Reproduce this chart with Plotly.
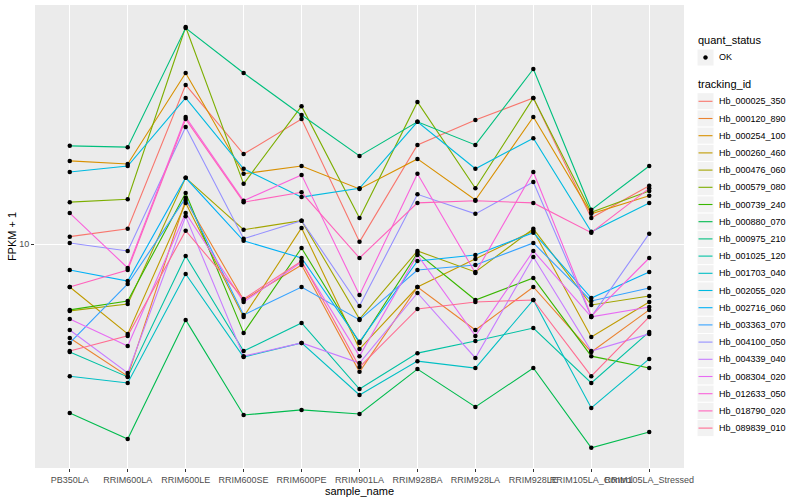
import plotly.graph_objects as go

# ---- categories ----
samples = ["PB350LA", "RRIM600LA", "RRIM600LE", "RRIM600SE", "RRIM600PE",
           "RRIM901LA", "RRIM928BA", "RRIM928LA", "RRIM928LE",
           "RRIM105LA_Control", "RRIM105LA_Stressed"]

tracking_ids = ["Hb_000025_350", "Hb_000120_890", "Hb_000254_100", "Hb_000260_460",
                "Hb_000476_060", "Hb_000579_080", "Hb_000739_240", "Hb_000880_070",
                "Hb_000975_210", "Hb_001025_120", "Hb_001703_040", "Hb_002055_020",
                "Hb_002716_060", "Hb_003363_070", "Hb_004100_050", "Hb_004339_040",
                "Hb_008304_020", "Hb_012633_050", "Hb_018790_020", "Hb_089839_010"]

colors = ["#F8766D", "#EA8331", "#D89000", "#C09B00", "#A3A500", "#7CAE00",
          "#39B600", "#00BB4E", "#00BF7D", "#00C1A3", "#00BFC4", "#00BAE0",
          "#00B0F6", "#35A2FF", "#9590FF", "#C77CFF", "#E76BF3", "#FA62DB",
          "#FF62BC", "#FF6C91"]

# ---- FPKM + 1 values (one list per tracking_id, in sample order) ----
hb_000025_350 = [10.7, 11.5, 43.3, 22.9, 31.6, 10.2, 24.9, 31.3, 38.4, 12.7, 17.1]
hb_000120_890 = [4.21, 2.96, 15.0, 5.97, 8.24, 3.08, 6.73, 4.53, 6.73, 3.70, 5.45]
hb_000254_100 = [21.5, 20.9, 48.3, 19.1, 20.5, 16.6, 21.9, 15.0, 32.2, 13.2, 15.6]
hb_000260_460 = [6.73, 4.37, 14.6, 5.11, 11.6, 3.80, 6.73, 8.71, 11.3, 4.25, 5.86]
hb_000476_060 = [5.40, 5.75, 18.4, 11.4, 12.4, 5.01, 9.38, 7.73, 11.5, 5.70, 6.19]
hb_000579_080 = [14.7, 15.1, 73.8, 17.4, 35.6, 12.7, 37.0, 16.7, 38.4, 13.4, 16.3]
hb_000739_240 = [5.45, 5.92, 16.0, 4.41, 9.64, 4.02, 9.20, 5.97, 7.31, 3.56, 3.19]
hb_000880_070 = [2.11, 1.66, 4.97, 2.07, 2.17, 2.09, 3.16, 2.23, 3.19, 1.53, 1.77]
hb_000975_210 = [24.7, 24.4, 73.1, 48.3, 32.8, 22.5, 30.8, 24.9, 50.1, 13.7, 20.5]
hb_001025_120 = [3.70, 2.94, 8.95, 3.73, 4.83, 2.63, 3.66, 4.09, 4.61, 2.78, 4.45]
hb_001703_040 = [2.96, 2.78, 7.59, 3.53, 4.02, 2.49, 3.40, 3.19, 5.97, 2.21, 3.47]
hb_002055_020 = [19.4, 20.5, 38.4, 20.0, 15.4, 16.7, 30.8, 20.0, 26.5, 11.2, 14.6]
hb_002716_060 = [7.87, 7.11, 18.4, 10.3, 8.79, 4.06, 8.55, 9.04, 11.1, 6.08, 7.73]
hb_003363_070 = [4.02, 6.92, 15.3, 5.20, 6.73, 4.97, 7.87, 8.24, 10.1, 5.92, 6.67]
hb_004100_050 = [10.1, 9.38, 29.4, 10.5, 12.4, 5.65, 15.8, 13.2, 17.7, 5.11, 11.0]
hb_004339_040 = [4.53, 3.05, 12.9, 3.56, 4.02, 3.34, 6.37, 3.50, 8.87, 3.73, 4.37]
hb_008304_020 = [5.01, 3.91, 13.3, 5.86, 8.47, 3.56, 9.04, 4.29, 9.38, 5.11, 5.60]
hb_012633_050 = [13.3, 8.02, 32.2, 14.9, 18.9, 6.25, 19.1, 7.66, 19.4, 5.15, 8.79]
hb_018790_020 = [6.73, 7.87, 31.6, 14.7, 16.1, 8.79, 14.6, 14.9, 14.6, 11.1, 16.7]
hb_089839_010 = [3.73, 4.29, 11.3, 6.03, 8.55, 3.22, 5.50, 5.86, 5.97, 2.96, 5.11]

series = [hb_000025_350, hb_000120_890, hb_000254_100, hb_000260_460, hb_000476_060,
          hb_000579_080, hb_000739_240, hb_000880_070, hb_000975_210, hb_001025_120,
          hb_001703_040, hb_002055_020, hb_002716_060, hb_003363_070, hb_004100_050,
          hb_004339_040, hb_008304_020, hb_012633_050, hb_018790_020, hb_089839_010]

quant_status = ["OK"]

FONT = "Liberation Sans, Arial, sans-serif"

# ---- page geometry (pixels) ----
W, H = 800, 500
ML, MR, MT, MB = 35, 116, 5, 32
PW, PH = W - ML - MR, H - MT - MB


def px(x):   # pixel column -> paper x
    return (x - ML) / PW


def py(y):   # pixel row -> paper y
    return (H - MB - y) / PH


fig = go.Figure()

for name, col, vals in zip(tracking_ids, colors, series):
    fig.add_trace(go.Scatter(
        x=samples, y=vals, mode="lines", name=name,
        line=dict(color=col, width=1.1),
        showlegend=False, hoverinfo="skip",
    ))

# points (quant_status = OK) on top of the lines
all_x = [s for vals in series for s in samples]
all_y = [v for vals in series for v in vals]
fig.add_trace(go.Scatter(
    x=all_x, y=all_y, mode="markers", name=quant_status[0],
    marker=dict(color="black", size=4.5, symbol="circle"),
    showlegend=False,
))

# ---- ggplot-style legend drawn with shapes + text ----
shapes = []
annotations = []
KX0, KX1 = 697, 714
TX = 717

annotations.append(dict(text="quant_status", x=px(696), y=py(40.5), xref="paper", yref="paper",
                        xanchor="left", yanchor="middle", showarrow=False,
                        font=dict(size=11, color="black", family=FONT)))
shapes.append(dict(type="rect", xref="paper", yref="paper", x0=px(KX0), x1=px(KX1),
                   y0=py(49), y1=py(66), fillcolor="#F2F2F2", line=dict(color="white", width=1),
                   layer="above"))
shapes.append(dict(type="circle", xref="paper", yref="paper", x0=px(703.5), x1=px(707.5),
                   y0=py(55.5), y1=py(59.5), fillcolor="black", line=dict(color="black", width=0.5),
                   layer="above"))
annotations.append(dict(text=quant_status[0], x=px(TX), y=py(57.5), xref="paper", yref="paper",
                        xanchor="left", yanchor="middle", showarrow=False,
                        font=dict(size=9, color="black", family=FONT)))

annotations.append(dict(text="tracking_id", x=px(696), y=py(84.5), xref="paper", yref="paper",
                        xanchor="left", yanchor="middle", showarrow=False,
                        font=dict(size=11, color="black", family=FONT)))
for i, (name, col) in enumerate(zip(tracking_ids, colors)):
    yc = 101.3 + 17.2 * i
    shapes.append(dict(type="rect", xref="paper", yref="paper", x0=px(KX0), x1=px(KX1),
                       y0=py(yc - 8.6), y1=py(yc + 8.6), fillcolor="#F2F2F2",
                       line=dict(color="white", width=1), layer="above"))
    shapes.append(dict(type="line", xref="paper", yref="paper", x0=px(698.5), x1=px(712.5),
                       y0=py(yc), y1=py(yc), line=dict(color=col, width=1.1), layer="above"))
    annotations.append(dict(text=name, x=px(TX), y=py(yc), xref="paper", yref="paper",
                            xanchor="left", yanchor="middle", showarrow=False,
                            font=dict(size=9, color="black", family=FONT)))

fig.update_layout(
    width=W, height=H,
    margin=dict(l=ML, r=MR, t=MT, b=MB, autoexpand=False),
    paper_bgcolor="white",
    plot_bgcolor="#EBEBEB",
    font=dict(family=FONT, size=10, color="black"),
    showlegend=False,
    hovermode=False,
    shapes=shapes,
    annotations=annotations,
)

fig.update_xaxes(
    type="category", categoryorder="array", categoryarray=samples,
    range=[-0.6, len(samples) - 0.4],
    showgrid=True, gridcolor="white", gridwidth=1.1,
    zeroline=False, showline=False,
    ticks="outside", ticklen=3, tickcolor="#333333", tickwidth=1,
    tickangle=0,
    tickfont=dict(size=9, color="#4D4D4D", family=FONT),
    title=dict(text="sample_name", font=dict(size=11, color="black"), standoff=0),
    automargin=False,
)

fig.update_yaxes(
    type="log", range=[0.104, 1.956],
    tickvals=[10], ticktext=["10"],
    showgrid=True, gridcolor="white", gridwidth=1.1,
    zeroline=False, showline=False,
    ticks="outside", ticklen=3, tickcolor="#333333", tickwidth=1,
    tickfont=dict(size=9, color="#4D4D4D", family=FONT),
    title=dict(text="FPKM + 1", font=dict(size=11, color="black"), standoff=0),
    automargin=False,
)

# remove the browser's default 8px page margin so the figure sits at (0, 0)
fig.write_html("out.html",
               config={"displayModeBar": False},
               post_script="document.body.style.margin='0px';document.body.style.padding='0px';")
